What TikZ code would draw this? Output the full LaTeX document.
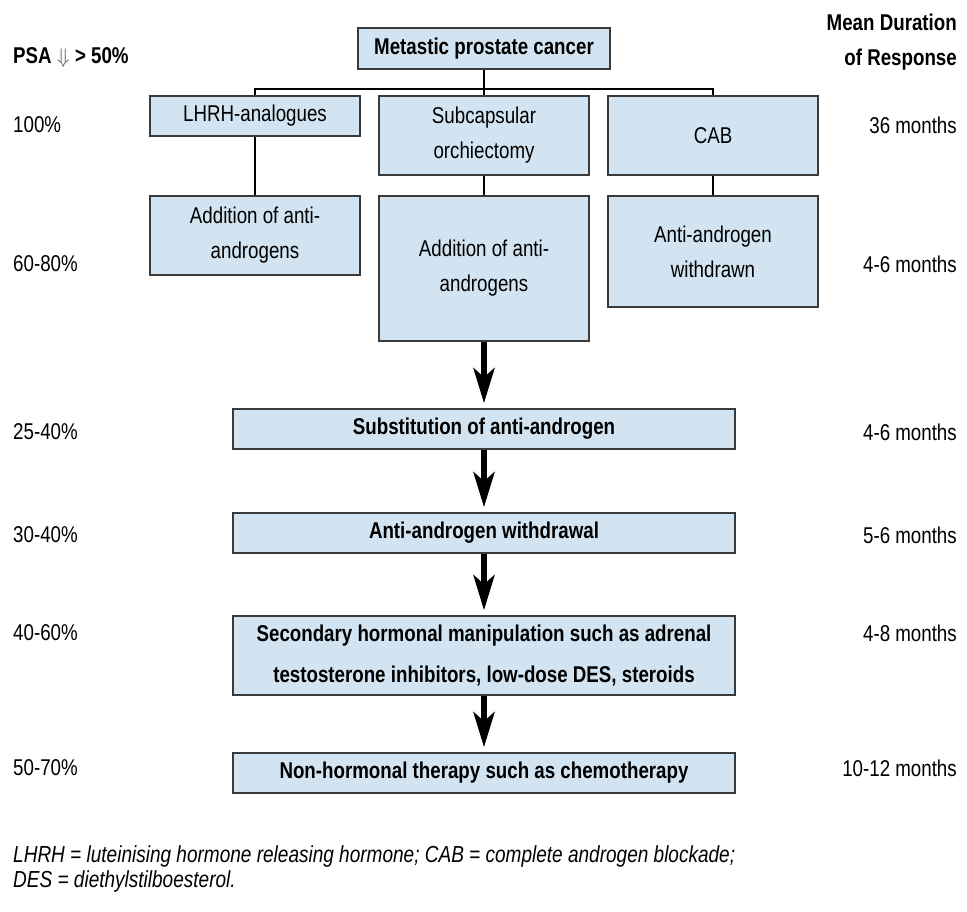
\documentclass[tikz,border=0pt]{standalone}
\usepackage{fontspec}
\setmainfont{Liberation Sans}[FakeStretch=0.82]
\usetikzlibrary{arrows.meta, positioning}
\definecolor{boxblue}{HTML}{D2E4F1}
\definecolor{boxline}{HTML}{3A3A3A}
\tikzset{
    stage/.style={draw=boxline, fill=boxblue, line width=0.9pt, align=center, inner sep=2pt,
        font=\fontsize{13}{20}\selectfont},
    wide/.style={stage, minimum width=10.04cm, minimum height=0.8cm},
    narrow/.style={stage, minimum width=4.2cm},
    side/.style={font=\fontsize{13}{20}\selectfont},
    link/.style={draw=black, line width=0.7pt},
    thickarrow/.style={-{Stealth[length=0.7cm, width=0.42cm, inset=0.18cm]}, line width=3.4pt, shorten >=0.1cm}
}

\begin{document}
\begin{tikzpicture}[x=0.02cm, y=-0.02cm]
    \useasboundingbox (0, 0) rectangle (967, 912);

    \node[stage, font=\fontsize{13}{20}\selectfont\bfseries, minimum width=5.04cm, minimum height=0.82cm] (mpc) at (484, 48.5){Metastic prostate cancer};
    \node[narrow, minimum height=0.8cm] (lhrh) at (255, 116){LHRH-analogues};
    \node[narrow, minimum height=1.58cm] (subcap) at (484, 135.5){Subcapsular\\orchiectomy};
    \node[narrow, minimum height=1.58cm] (cab) at (713, 135.5){CAB};
    \node[narrow, minimum height=1.58cm] (addl) at (255, 235.5){Addition of anti-\\androgens};
    \node[narrow, minimum height=2.9cm] (addm) at (484, 268.5){Addition of anti-\\androgens};
    \node[narrow, minimum height=2.22cm] (aaw) at (713, 251.5){Anti-androgen\\withdrawn};

    \node[wide, font=\fontsize{13}{20}\selectfont\bfseries] (subst) at (484, 429){Substitution of anti-androgen};
    \node[wide, font=\fontsize{13}{20}\selectfont\bfseries] (withd) at (484, 533){Anti-androgen withdrawal};
    \node[wide, font=\fontsize{13}{23}\selectfont\bfseries, minimum height=1.58cm] (second) at (484, 655.5){Secondary hormonal manipulation such as adrenal\\testosterone inhibitors, low-dose DES, steroids};
    \node[wide, font=\fontsize{13}{20}\selectfont\bfseries] (nonh) at (484, 773){Non-hormonal therapy such as chemotherapy};

    \coordinate (bus) at (484, 89);
    \draw[link](mpc.south)--(bus);
    \draw[link](lhrh.north)|-(bus)-|(cab.north);
    \draw[link](bus)--(subcap.north);
    \draw[link](lhrh.south)--(addl.north);
    \draw[link](subcap.south)--(addm.north);
    \draw[link](cab.south)--(aaw.north);

    \draw[thickarrow](addm.south)--(subst.north);
    \draw[thickarrow](subst.south)--(withd.north);
    \draw[thickarrow](withd.south)--(second.north);
    \draw[thickarrow](second.south)--(nonh.north);

    \node[side, anchor=west, font=\fontsize{13}{20}\selectfont\bfseries] (psa) at (7, 58){PSA {\color{black!65}$\Downarrow$} {>} 50\%};
    \node[side, anchor=west] (p1) at (7, 125){100\%};
    \node[side, anchor=west] (p2) at (7, 264){60-80\%};
    \node[side, anchor=west] (p3) at (7, 432){25-40\%};
    \node[side, anchor=west] (p4) at (7, 535){30-40\%};
    \node[side, anchor=west] (p5) at (7, 633){40-60\%};
    \node[side, anchor=west] (p6) at (7, 768){50-70\%};

    \node[side, anchor=east, align=right, font=\fontsize{13}{20}\selectfont\bfseries] (mdr) at (963, 42){Mean Duration\\of Response};
    \node[side, anchor=east] (d1) at (963, 125){36 months};
    \node[side, anchor=east] (d2) at (963, 264){4-6 months};
    \node[side, anchor=east] (d3) at (963, 432){4-6 months};
    \node[side, anchor=east] (d4) at (963, 535){5-6 months};
    \node[side, anchor=east] (d5) at (963, 633){4-8 months};
    \node[side, anchor=east] (d6) at (963, 768){10-12 months};

    \node[anchor=west, align=left, font=\fontsize{13.2}{14.2}\selectfont\itshape] (abbr) at (7, 869){LHRH = luteinising hormone releasing hormone; CAB = complete androgen blockade;\\DES = diethylstilboesterol.};
\end{tikzpicture}
\end{document}
